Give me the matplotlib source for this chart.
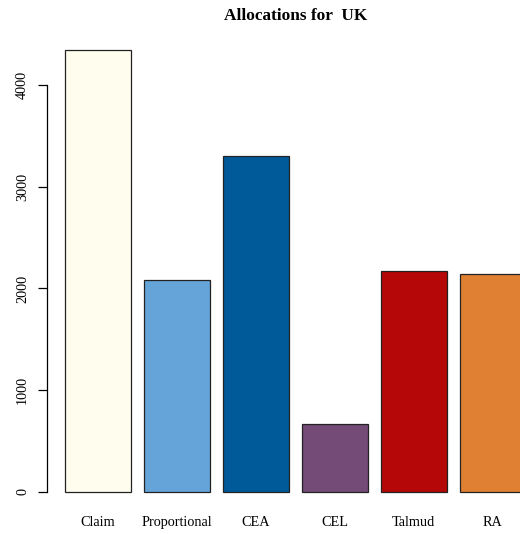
import matplotlib
matplotlib.use("Agg")
import matplotlib.pyplot as plt

categories = ["Claim", "Proportional", "CEA", "CEL", "Talmud", "RA"]
values = [4347, 2084, 3307, 663, 2169, 2146]
colors = ["#FFFDEE", "#64A4D9", "#005A9A", "#744B76", "#B50707", "#E08032"]
yticks = [0, 1000, 2000, 3000, 4000]
title = "Allocations for  UK"

DPI = 100
W, H = 520, 534
fig = plt.figure(figsize=(W / DPI, H / DPI), dpi=DPI)

plt.rcParams["font.family"] = ["Liberation Serif", "DejaVu Serif"]

# plot region in pixels (extends past the right edge of the figure)
x0_px, x1_px = 46.5, 544.0
y_top_px, y_bot_px = 32.3, 509.4
ax = fig.add_axes([x0_px / W, (H - y_bot_px) / H,
                   (x1_px - x0_px) / W, (y_bot_px - y_top_px) / H])

# bar layout: width 1, space 0.2
width = 1.0
space = 0.2
lefts = [space + i * (width + space) for i in range(len(values))]
centers = [l + width / 2 for l in lefts]

ax.bar(lefts, values, width=width, align="edge", color=colors,
       edgecolor="#222222", linewidth=0.9)

xmin, xmax = lefts[0], lefts[-1] + width
pad = 0.04 * (xmax - xmin)
ax.set_xlim(xmin - pad, xmax + pad)
ymax = max(values)
ax.set_ylim(-0.04 * ymax, 1.04 * ymax)

for s in ["top", "right", "bottom"]:
    ax.spines[s].set_visible(False)
ax.spines["left"].set_bounds(yticks[0], yticks[-1])
ax.spines["left"].set_linewidth(0.9)

fs = 14.2 * 72 / DPI
ax.set_yticks(yticks)
ax.set_yticklabels([str(t) for t in yticks], rotation=90, va="center",
                   fontsize=fs)
ax.tick_params(axis="y", length=6.5, width=0.9, pad=6)

ax.set_xticks(centers)
ax.set_xticklabels(categories, fontsize=fs)
ax.tick_params(axis="x", length=0, pad=5)

ax.set_title(title, fontsize=17.2 * 72 / DPI, fontweight="bold", pad=9)

fig.savefig("out.png", dpi=DPI)
